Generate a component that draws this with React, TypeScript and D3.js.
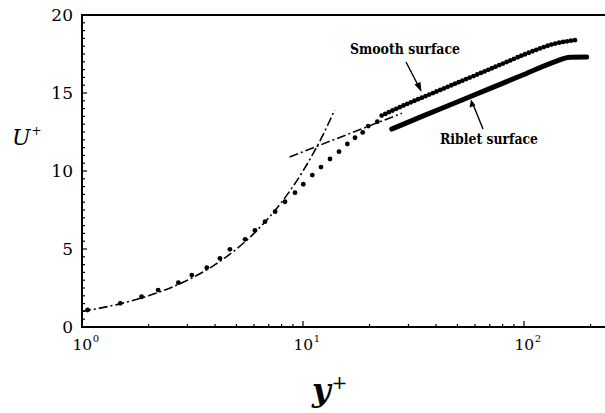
import React from "react";
import * as d3 from "d3";

// Smooth surface, sparse dots (y+, U+)
const smoothLowYp = [1.06, 1.49, 1.86, 2.21, 2.73, 3.14, 3.67, 4.21, 4.67, 5.47, 6.06, 6.73, 7.48, 8.29, 9.2, 10.03, 11.02, 12.06, 13.25, 14.55, 15.87, 17.19, 18.63, 19.75, 21.69];
const smoothLowU = [1.09, 1.52, 1.94, 2.37, 2.84, 3.33, 3.8, 4.4, 4.98, 5.62, 6.2, 6.75, 7.39, 8.03, 8.61, 9.15, 9.74, 10.25, 10.77, 11.24, 11.73, 12.13, 12.47, 12.88, 13.16];
// Smooth surface, dense dots
const smoothHighYp = [22.7, 27.5, 40.3, 49.6, 63.2, 83.5, 99.3, 140.6, 173.2];
const smoothHighU = [13.55, 14.1, 15.1, 15.64, 16.26, 16.99, 17.44, 18.19, 18.4];
// Riblet surface
const ribletYp = [25.2, 35.0, 53.1, 83.5, 99.3, 140.6, 161.5, 192.2];
const ribletU = [12.69, 13.53, 14.58, 15.73, 16.17, 17.05, 17.29, 17.3];
// Viscous sublayer U+ = y+
const linYp = [1, 1.5, 2, 3, 4, 5, 6, 7, 8, 10, 12, 13.9];
const linU = [1, 1.5, 2, 3, 4, 5, 6, 7, 8, 10, 12, 13.9];
// Log law
const logYp = [8.7, 28];
const logU = [10.9, 13.7];

const yTicksMajor = [0, 5, 10, 15, 20];
const xDecades = [1, 10, 100];
const xDecadeExp = ["0", "1", "2"];

export default function App() {
  const W = 605, H = 413;
  const x = d3.scaleLog().domain([1, 100]).range([82, 524]);
  const y = d3.scaleLinear().domain([0, 20]).range([327, 15]);
  const x0 = 82, x1 = 605, y0 = 327, yTop = 15;

  const line = d3.line<[number, number]>().x(d => x(d[0])).y(d => y(d[1]));
  const smooth = d3.line<[number, number]>().x(d => x(d[0])).y(d => y(d[1])).curve(d3.curveMonotoneX);

  const minorY: number[] = d3.range(0, 20.01, 0.5);
  const minorX: number[] = [];
  for (const dec of [1, 10, 100]) for (let k = 2; k <= 9; k++) { const v = dec * k; if (x(v) < x1) minorX.push(v); }

  const serif = "DejaVu Serif, Liberation Serif, Times New Roman, serif";
  const dashDot = "9 3 2 3";

  return (
    <svg width={W} height={H} style={{ position: "absolute", left: 0, top: 0, background: "#fff" }}>
      <rect x={0} y={0} width={W} height={H} fill="#fff" />
      {/* frame */}
      <line x1={x0} y1={yTop} x2={x1} y2={yTop} stroke="#000" strokeWidth={2} />
      <line x1={x0} y1={y0} x2={x1} y2={y0} stroke="#000" strokeWidth={2} />
      <line x1={x0} y1={yTop - 1} x2={x0} y2={y0 + 1} stroke="#000" strokeWidth={2} />
      {/* y ticks */}
      {minorY.map((v, i) => (
        <line key={"yt" + i} x1={x0} x2={x0 + (v % 5 === 0 ? 5 : 3)} y1={y(v)} y2={y(v)} stroke="#000" strokeWidth={1.2} />
      ))}
      {yTicksMajor.map(v => (
        <text key={"yl" + v} x={73} y={y(v)} dy="0.35em" textAnchor="end" style={{ fontFamily: serif }} fontSize={17}>{v}</text>
      ))}
      {/* x ticks */}
      {minorX.map((v, i) => (
        <line key={"xt" + i} x1={x(v)} x2={x(v)} y1={y0} y2={y0 - 3} stroke="#000" strokeWidth={1.2} />
      ))}
      {xDecades.map((v, i) => (
        <g key={"xd" + v}>
          <line x1={x(v)} x2={x(v)} y1={y0} y2={y0 - 6} stroke="#000" strokeWidth={1.2} />
          <text x={x(v) - 9.5} y={350} style={{ fontFamily: serif }} fontSize={15.5}>
            10<tspan dy={-8} dx={0.5} fontSize={10}>{xDecadeExp[i]}</tspan>
          </text>
        </g>
      ))}
      {/* axis titles */}
      <text x={12} y={145} style={{ fontFamily: serif }} fontSize={22} fontStyle="italic">
        U<tspan dy={-10} dx={1} fontSize={12} fontStyle="normal">+</tspan>
      </text>
      <text x={312} y={401} style={{ fontFamily: serif }} fontSize={32} fontStyle="italic" fontWeight="bold">
        y<tspan dy={-12} dx={1} fontSize={19} fontStyle="normal" fontWeight="normal">+</tspan>
      </text>
      {/* reference lines */}
      <path d={smooth(linYp.map((v, i) => [v, linU[i]]))!} fill="none" stroke="#000" strokeWidth={1.6} strokeDasharray={dashDot} />
      <path d={line(logYp.map((v, i) => [v, logU[i]]))!} fill="none" stroke="#000" strokeWidth={1.6} strokeDasharray={dashDot} />
      {/* smooth surface dots */}
      {smoothLowYp.map((v, i) => (
        <circle key={"sd" + i} cx={x(v)} cy={y(smoothLowU[i])} r={2.4} fill="#000" />
      ))}
      <path d={smooth(smoothHighYp.map((v, i) => [v, smoothHighU[i]]))!} fill="none" stroke="#000" strokeWidth={4.8} strokeLinecap="round" strokeDasharray="0 4" />
      {/* riblet */}
      <path d={smooth(ribletYp.map((v, i) => [v, ribletU[i]]))!} fill="none" stroke="#000" strokeWidth={5} strokeLinecap="round" />
      {/* labels and arrows */}
      <text x={350} y={54} textLength={110} lengthAdjust="spacingAndGlyphs" style={{ fontFamily: serif }} fontSize={15} fontWeight="bold">Smooth surface</text>
      <line x1={406} y1={62} x2={420} y2={89} stroke="#000" strokeWidth={1.4} />
      <path d="M421.5,92 L414.5,84.5 L420.5,82 Z" fill="#000" />
      <text x={440} y={144} textLength={98} lengthAdjust="spacingAndGlyphs" style={{ fontFamily: serif }} fontSize={15} fontWeight="bold">Riblet surface</text>
      <line x1={483} y1={129} x2={472.5} y2={103} stroke="#000" strokeWidth={1.4} />
      <path d="M471,99.5 L469.5,107.5 L475.5,105.5 Z" fill="#000" />
    </svg>
  );
}
